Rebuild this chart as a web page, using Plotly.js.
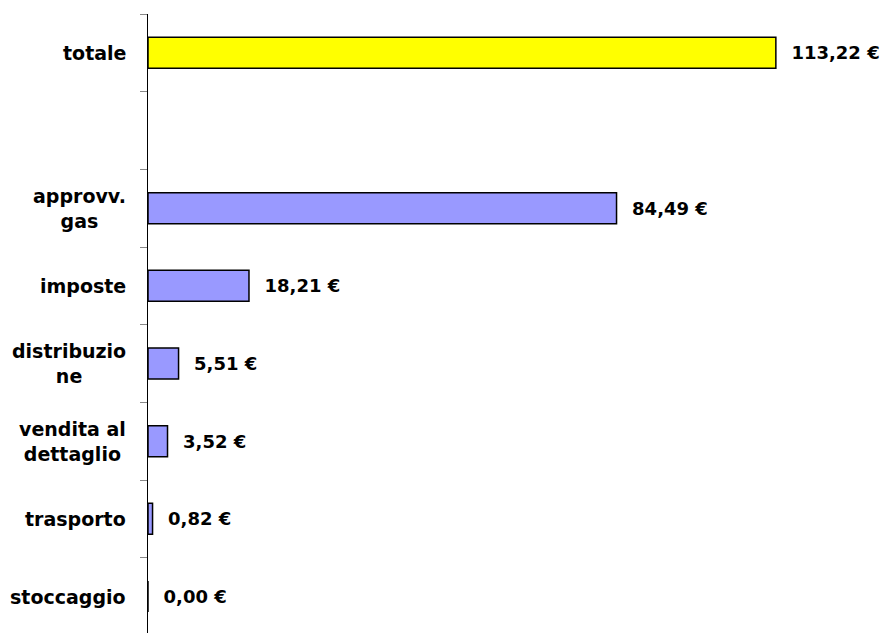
<!DOCTYPE html>
<html>
<head>
<meta charset="utf-8">
<script src="https://cdn.plot.ly/plotly-3.0.1.min.js"></script>
<style>html,body{margin:0;padding:0;background:#fff;}#chart{width:885px;height:633px;}</style>
</head>
<body>
<div id="chart"></div>
<script>
// Data (bottom to top)
const categories = ["stoccaggio", "trasporto", "vendita al<br>dettaglio", "distribuzio<br>ne", "imposte", "approvv.<br>gas", " ", "totale"];
const values = [0.00, 0.82, 3.52, 5.51, 18.21, 84.49, null, 113.22];
const barColors = ["#9999FF", "#9999FF", "#9999FF", "#9999FF", "#9999FF", "#9999FF", "#9999FF", "#FFFF00"];

const font = {family: "DejaVu Sans", size: 18, color: "#000", weight: "bold"};
const labelFont = {family: "DejaVu Sans", size: 19, color: "#000", weight: "bold"};

const trace = {
  type: "bar",
  orientation: "h",
  y: categories,
  x: values,
  width: 0.4,
  marker: {color: barColors, line: {color: "#000", width: 1.5}},
  texttemplate: "\u00a0\u00a0%{x:.2f} €",
  textposition: "outside",
  textfont: font,
  cliponaxis: false,
  hoverinfo: "none"
};

const annotations = categories.map(c => ({
  xref: "paper", yref: "y", x: 0, y: c,
  text: c, showarrow: false,
  xanchor: "right", yanchor: "middle", align: "center",
  xshift: -20, font: labelFont
}));

const layout = {
  width: 885, height: 633,
  margin: {l: 148, r: 0, t: 14, b: 0, pad: 0},
  paper_bgcolor: "#fff", plot_bgcolor: "#fff",
  separators: ",.",
  showlegend: false,
  xaxis: {range: [0, 132.9], visible: false, fixedrange: true},
  yaxis: {
    type: "category",
    categoryorder: "array", categoryarray: categories,
    range: [-0.47, 7.5],
    showticklabels: false,
    showline: true, linecolor: "#000", linewidth: 1,
    ticks: "outside", tickson: "boundaries", ticklen: 7, tickcolor: "#888", tickwidth: 1,
    showgrid: false, zeroline: false, fixedrange: true
  },
  annotations: annotations
};

Plotly.newPlot("chart", [trace], layout, {staticPlot: true, displayModeBar: false});
</script>
</body>
</html>
